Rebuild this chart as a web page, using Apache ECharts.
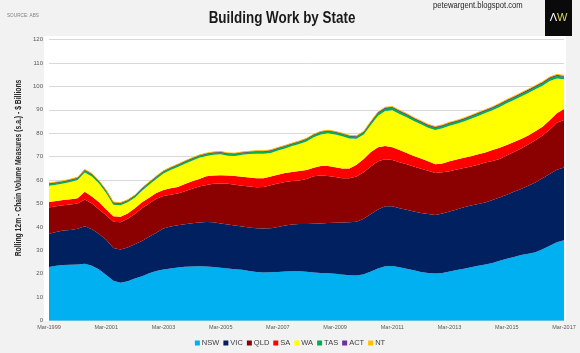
<!DOCTYPE html>
<html>
<head>
<meta charset="utf-8">
<script src="https://cdn.jsdelivr.net/npm/echarts@6/dist/echarts.min.js"></script>
<style>
  html, body { margin: 0; padding: 0; background: #f2f2f2; }
  #chart { width: 580px; height: 353px; }
</style>
</head>
<body>
<div id="chart"></div>
<script>
// quarterly, Mar-1999 .. Mar-2017
const months = ['Mar', 'Jun', 'Sep', 'Dec'];
const quarters = [];
for (let y = 1999; y <= 2017; y++) {
  for (let m = 0; m < 4; m++) {
    if (y === 2017 && m > 0) break;
    quarters.push(months[m] + '-' + y);
  }
}

const yTicks = [0, 10, 20, 30, 40, 50, 60, 70, 80, 90, 100, 110, 120];

const nsw = [22.9, 23.4, 23.8, 23.9, 24.0, 24.3, 23.5, 21.8, 19.5, 17.0, 16.2, 16.8, 18.0, 19.0, 20.2, 21.2,
  21.8, 22.3, 22.7, 23.0, 23.1, 23.2, 23.1, 22.9, 22.6, 22.3, 22.0, 21.7, 21.2, 20.8, 20.6, 20.7,
  20.8, 21.0, 21.1, 21.1, 20.9, 20.6, 20.4, 20.2, 20.0, 19.7, 19.4, 19.3, 19.8, 21.0, 22.3, 23.2,
  23.3, 22.8, 22.2, 21.5, 20.8, 20.4, 20.1, 20.4, 21.0, 21.6, 22.2, 22.8, 23.5, 24.0, 24.6, 25.6,
  26.4, 27.2, 28.0, 28.6, 29.2, 30.5, 32.0, 33.5, 34.3];
const vic = [14.2, 14.4, 14.7, 14.8, 15.2, 16.0, 15.5, 15.2, 15.0, 14.0, 14.2, 14.4, 14.6, 15.0, 15.6, 16.3,
  17.5, 17.9, 18.0, 18.2, 18.5, 18.7, 19.0, 19.1, 18.9, 18.7, 18.6, 18.5, 18.6, 18.7, 18.7, 18.8,
  19.2, 19.6, 19.9, 20.2, 20.4, 20.8, 21.1, 21.5, 21.8, 22.2, 22.6, 22.9, 23.7, 24.5, 25.2, 25.6,
  25.5, 25.2, 25.1, 25.1, 25.2, 25.1, 25.0, 25.4, 25.6, 25.9, 26.2, 26.4, 26.3, 26.4, 26.9, 27.0,
  27.4, 27.8, 28.2, 29.0, 29.8, 30.3, 30.6, 30.9, 31.1];
const qld = [11.2, 11.0, 10.8, 10.9, 10.8, 11.4, 11.0, 10.5, 10.5, 11.2, 11.6, 12.3, 12.9, 14.0, 14.2, 14.5,
  13.9, 13.6, 13.6, 14.0, 14.7, 15.4, 15.8, 16.4, 17.1, 17.4, 17.4, 17.4, 17.5, 17.5, 17.8, 18.3,
  18.6, 18.6, 18.6, 18.5, 19.2, 20.2, 20.5, 20.1, 19.5, 18.9, 18.8, 19.3, 19.8, 20.3, 20.5, 20.1,
  19.8, 19.6, 19.5, 19.2, 18.8, 18.5, 17.9, 17.5, 17.2, 17.0, 16.8, 16.6, 16.8, 17.1, 16.7, 16.4,
  16.7, 17.0, 17.3, 17.6, 18.0, 18.2, 18.9, 20.1, 20.3];
const sa = [2.4, 2.3, 2.2, 2.2, 2.3, 3.3, 3.0, 3.0, 2.5, 2.4, 2.4, 2.3, 2.5, 2.5, 2.5, 2.5,
  2.6, 2.7, 2.8, 3.1, 3.2, 3.2, 3.7, 3.6, 3.5, 3.6, 3.7, 3.8, 3.8, 3.8, 3.7, 3.7,
  3.7, 3.8, 3.9, 4.1, 3.8, 3.7, 4.0, 4.2, 4.2, 4.2, 4.2, 5.0, 5.7, 6.2, 6.0, 5.7,
  5.4, 5.2, 4.8, 4.5, 4.4, 4.0, 3.8, 3.8, 4.2, 4.3, 4.3, 4.4, 4.4, 4.3, 4.6, 4.8,
  4.5, 4.3, 4.0, 3.8, 3.8, 3.8, 4.0, 4.0, 4.6];
const wa = [6.9, 6.9, 7.0, 7.4, 7.7, 8.2, 8.5, 8.0, 7.0, 4.9, 4.9, 4.7, 4.5, 5.0, 5.5, 6.0,
  7.0, 7.8, 8.5, 8.7, 8.8, 9.0, 8.7, 8.8, 8.9, 8.4, 8.6, 9.4, 10.0, 10.4, 10.4, 10.1,
  10.3, 10.5, 11.0, 11.5, 12.2, 13.0, 13.5, 14.0, 14.0, 13.7, 12.8, 11.1, 10.5, 11.5, 13.5, 14.9,
  15.8, 15.4, 15.2, 14.9, 14.6, 14.3, 14.6, 15.0, 15.2, 15.2, 15.5, 16.0, 16.4, 16.8, 17.0, 17.4,
  17.8, 17.9, 18.2, 18.2, 18.0, 17.5, 16.8, 14.9, 12.7];
const tas = [0.7, 0.7, 0.7, 0.7, 0.7, 0.8, 0.8, 0.7, 0.7, 0.6, 0.6, 0.6, 0.6, 0.7, 0.7, 0.7,
  0.7, 0.7, 0.7, 0.7, 0.7, 0.7, 0.7, 0.7, 0.7, 0.7, 0.7, 0.7, 0.7, 0.8, 0.8, 0.8,
  0.8, 0.8, 0.8, 0.8, 0.8, 0.8, 0.8, 0.8, 0.8, 0.8, 0.8, 0.8, 0.8, 0.9, 0.9, 0.9,
  0.9, 0.9, 0.9, 0.8, 0.8, 0.8, 0.8, 0.8, 0.8, 0.8, 0.8, 0.8, 0.8, 0.8, 0.8, 0.8,
  0.8, 0.8, 0.8, 0.8, 0.8, 0.9, 0.9, 0.9, 0.9];
const act = [0.3, 0.3, 0.3, 0.3, 0.3, 0.3, 0.3, 0.3, 0.3, 0.3, 0.3, 0.3, 0.3, 0.3, 0.3, 0.3,
  0.3, 0.3, 0.3, 0.3, 0.3, 0.3, 0.3, 0.3, 0.3, 0.3, 0.3, 0.3, 0.3, 0.3, 0.3, 0.3,
  0.3, 0.3, 0.3, 0.3, 0.3, 0.3, 0.3, 0.3, 0.3, 0.3, 0.3, 0.3, 0.3, 0.4, 0.4, 0.4,
  0.4, 0.4, 0.4, 0.4, 0.4, 0.4, 0.4, 0.4, 0.4, 0.4, 0.4, 0.4, 0.4, 0.4, 0.4, 0.4,
  0.4, 0.4, 0.4, 0.4, 0.4, 0.4, 0.4, 0.4, 0.4];
const nt = [0.2, 0.2, 0.2, 0.2, 0.2, 0.2, 0.2, 0.2, 0.2, 0.2, 0.2, 0.2, 0.2, 0.2, 0.2, 0.2,
  0.2, 0.2, 0.2, 0.2, 0.2, 0.2, 0.2, 0.2, 0.2, 0.2, 0.2, 0.2, 0.2, 0.2, 0.2, 0.2,
  0.2, 0.2, 0.2, 0.2, 0.2, 0.2, 0.2, 0.2, 0.2, 0.2, 0.2, 0.2, 0.2, 0.3, 0.3, 0.3,
  0.3, 0.3, 0.3, 0.3, 0.3, 0.3, 0.3, 0.3, 0.3, 0.3, 0.3, 0.3, 0.3, 0.3, 0.3, 0.4,
  0.4, 0.4, 0.4, 0.4, 0.4, 0.4, 0.4, 0.4, 0.4];

const states = ['NSW', 'VIC', 'QLD', 'SA', 'WA', 'TAS', 'ACT', 'NT'];
const stateData = [nsw, vic, qld, sa, wa, tas, act, nt];
const stateColors = ['#00b0f0', '#002060', '#8b0000', '#ff0000', '#ffff00', '#00b050', '#7030a0', '#ffc000'];

const sans = '"Liberation Sans", Arial, sans-serif';

let myChart = echarts.init(document.getElementById('chart'));
let option = {
  backgroundColor: '#f2f2f2',
  animation: false,
  color: stateColors,
  graphic: [
    { type: 'rect', z: -100, shape: { x: 44, y: 36, width: 522, height: 285 }, style: { fill: '#ffffff' }, silent: true },
    // title, squeezed to look like a narrow face
    { type: 'text', x: 282, y: 18, scaleX: 0.79, style: {
        text: 'Building Work by State', fill: '#1a1a1a', font: 'bold 17px ' + sans,
        textAlign: 'center', textVerticalAlign: 'middle' } },
    { type: 'text', x: 7, y: 15, scaleX: 0.85, style: {
        text: 'SOURCE: ABS', fill: '#7f7f7f', font: '5.5px ' + sans, textVerticalAlign: 'middle' } },
    { type: 'text', x: 433, y: 6, scaleX: 0.85, style: {
        text: 'petewargent.blogspot.com', fill: '#262626', font: '9px ' + sans, textVerticalAlign: 'middle' } },
    // y axis title
    { type: 'text', x: 19, y: 168, rotation: Math.PI / 2, scaleX: 0.8, style: {
        text: 'Rolling 12m - Chain Volume Measures (s.a.) - $ Billions', fill: '#262626',
        font: 'bold 8.5px ' + sans, textAlign: 'center', textVerticalAlign: 'middle' } },
    { type: 'rect', shape: { x: 545, y: 0, width: 27, height: 36 }, style: { fill: '#0a0a0a' } },
    { type: 'text', x: 558.5, y: 18, style: { rich: {
        a: { fill: '#ffffff', font: '11px ' + sans },
        w: { fill: '#d8d860', font: '11px ' + sans }
      }, text: '{a|Λ}{w|W}', align: 'center', verticalAlign: 'middle' } }
  ],
  legend: {
    bottom: 1,
    left: 'center',
    itemWidth: 5,
    itemHeight: 5,
    itemGap: 4,
    icon: 'rect',
    textStyle: { fontFamily: sans, fontSize: 7.5, color: '#404040', padding: [0, 0, 0, -3] },
    data: states
  },
  grid: { left: 49, right: 16, top: 39.5, bottom: 32.3 },
  xAxis: {
    type: 'category',
    boundaryGap: false,
    data: quarters,
    axisLine: { show: false },
    axisTick: { show: false },
    axisLabel: { interval: 7, fontSize: 5.5, fontFamily: sans, color: '#595959', margin: 4 }
  },
  yAxis: {
    type: 'value',
    min: 0,
    max: 120,
    interval: 10,
    axisLine: { show: false },
    axisTick: { show: false },
    axisLabel: {
      fontSize: 6, fontFamily: sans, color: '#595959', margin: 6,
      formatter: v => yTicks.includes(v) ? String(v) : ''
    },
    splitLine: { lineStyle: { color: '#d9d9d9', width: 1 } }
  },
  series: states.map((name, i) => ({
    name: name,
    type: 'line',
    stack: 'total',
    data: stateData[i],
    symbol: 'none',
    lineStyle: { width: i >= 5 ? 1 : 0, color: stateColors[i] },
    areaStyle: { color: stateColors[i], opacity: 1 },
    itemStyle: { color: stateColors[i] }
  }))
};
myChart.setOption(option);
</script>
</body>
</html>
